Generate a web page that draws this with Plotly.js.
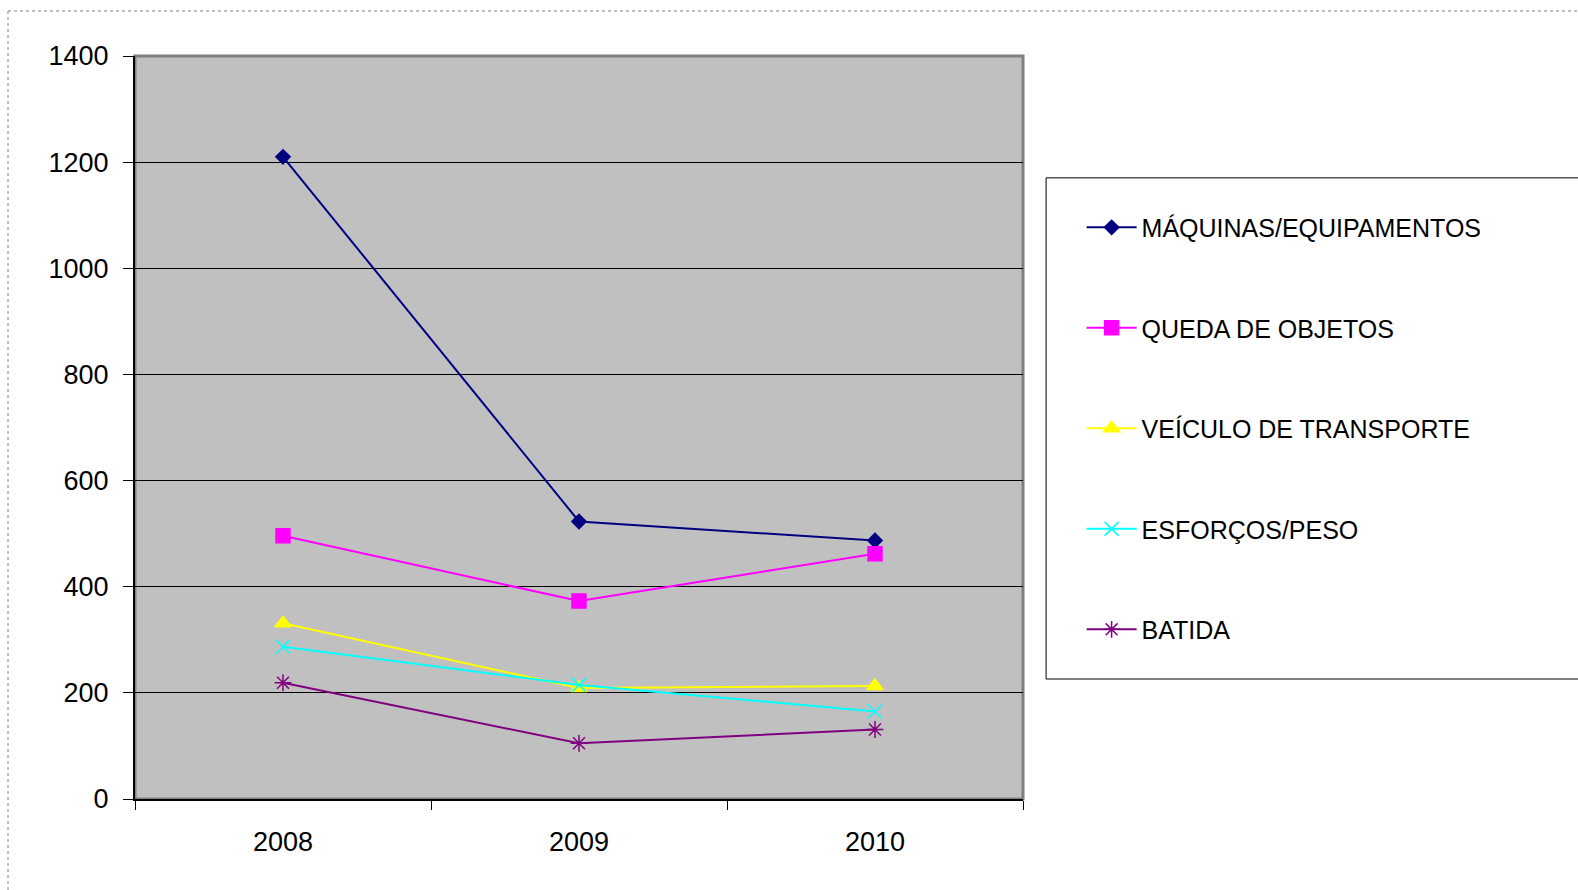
<!DOCTYPE html>
<html>
<head>
<meta charset="utf-8">
<script src="https://cdn.plot.ly/plotly-3.0.1.min.js"></script>
<style>
html,body{margin:0;padding:0;background:#fff;}
#chart{width:1578px;height:890px;}
</style>
</head>
<body>
<div id="chart"></div>
<script>
const years = ['2008', '2009', '2010'];
const seriesNames = ['MÁQUINAS/EQUIPAMENTOS', 'QUEDA DE OBJETOS', 'VEÍCULO DE TRANSPORTE', 'ESFORÇOS/PESO', 'BATIDA'];
const maquinas = [1210, 523, 487];
const queda = [496, 373, 462];
const veiculo = [331, 209, 213];
const esforcos = [287, 215, 165];
const batida = [219, 105, 131];
const yTicks = [0, 200, 400, 600, 800, 1000, 1200, 1400];

const values = [maquinas, queda, veiculo, esforcos, batida];
const colors = ['#000080', '#FF00FF', '#FFFF00', '#00FFFF', '#800080'];
const symbols = ['diamond', 'square', 'triangle-up', 'x-thin-open', 'asterisk-open'];
const sizes = [11, 14, 14, 14, 14];

const traces = values.map((v, i) => ({
  type: 'scatter',
  mode: 'lines+markers',
  x: years,
  y: v,
  name: seriesNames[i],
  legendgroup: 'g' + i,
  line: {color: colors[i], width: 2},
  marker: {color: colors[i], symbol: symbols[i], size: sizes[i], line: {color: colors[i], width: 1.5}}
}));

const layout = {
  width: 1578,
  height: 890,
  margin: {l: 135, r: 555, t: 56, b: 91},
  paper_bgcolor: '#ffffff',
  plot_bgcolor: '#C0C0C0',
  font: {family: 'Liberation Sans, Arial, sans-serif', color: '#000', size: 24},
  showlegend: true,
  legend: {
    x: 1.066, y: 0.80, xanchor: 'left', yanchor: 'top',
    bgcolor: 'rgba(0,0,0,0)', borderwidth: 0,
    font: {size: 25, family: 'Liberation Sans, Arial, sans-serif'},
    tracegroupgap: 65,
    itemwidth: 50
  },
  xaxis: {
    type: 'category',
    range: [-0.5, 2.5],
    tickson: 'boundaries',
    ticks: 'outside', ticklen: 9, tickcolor: '#000', tickwidth: 1,
    showline: true, linecolor: '#000', linewidth: 2,
    showgrid: false, zeroline: false,
    ticklabelstandoff: 18,
    tickfont: {size: 27}
  },
  yaxis: {
    range: [0, 1400],
    tickvals: yTicks,
    ticktext: yTicks.map(String),
    ticks: 'outside', ticklen: 10, tickcolor: '#000', tickwidth: 1,
    showline: true, linecolor: '#000', linewidth: 2,
    showgrid: true, gridcolor: '#000', gridwidth: 1,
    zeroline: false,
    ticklabelstandoff: 9,
    tickfont: {size: 27}
  },
  shapes: [
    {type: 'rect', xref: 'paper', yref: 'paper', x0: 0, x1: 1, y0: 0, y1: 1, line: {color: '#808080', width: 3}, layer: 'below'},
    {type: 'rect', xref: 'paper', yref: 'paper', x0: 1.026, x1: 1.70, y0: 0.1615, y1: 0.836, line: {color: '#000', width: 1}},
    {type: 'line', xref: 'paper', yref: 'paper', x0: -0.143, x1: 1.70, y0: 1.0606, y1: 1.0606, line: {color: '#808080', width: 1, dash: 'dot'}},
    {type: 'line', xref: 'paper', yref: 'paper', x0: -0.143, x1: -0.143, y0: 1.0606, y1: -0.14, line: {color: '#808080', width: 1, dash: 'dot'}}
  ]
};

Plotly.newPlot('chart', traces, layout, {displayModeBar: false, staticPlot: true});
</script>
</body>
</html>
